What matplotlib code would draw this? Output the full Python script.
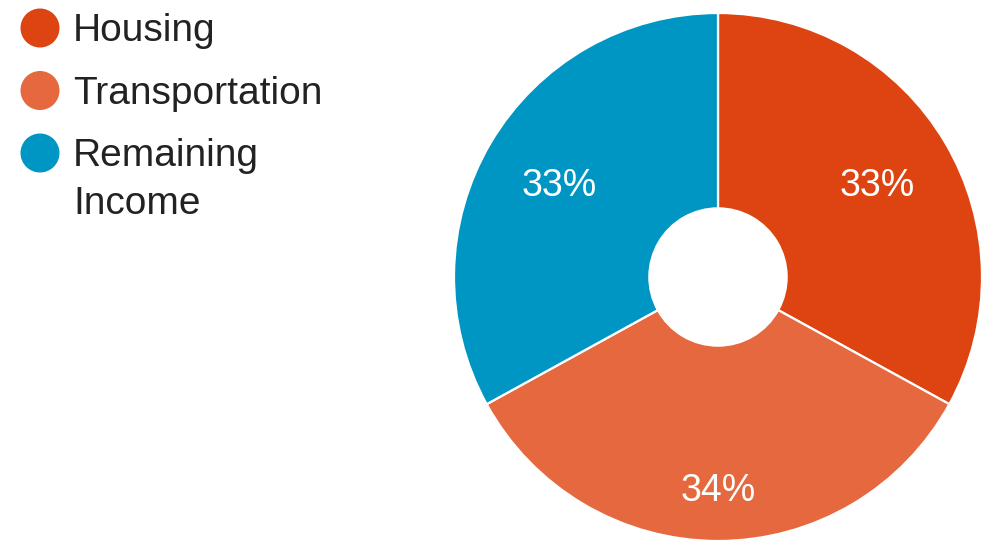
import textwrap
import matplotlib
matplotlib.use("Agg")
import matplotlib.pyplot as plt
from matplotlib.patches import Circle
import numpy as np

# ---- data ----
categories = ["Housing", "Transportation", "Remaining Income"]
values = [33, 34, 33]
colors = ["#DD4411", "#E5683F", "#0096C4"]

# ---- style / layout constants ----
label_r = [0.70, 0.80, 0.70]   # label distances (fraction of radius)
W, H = 992, 544
FONT = "Liberation Sans"
FS = 28

fig = plt.figure(figsize=(W / 100, H / 100), dpi=100)
fig.patch.set_facecolor("white")

# pie axes: centre (718, 277) px from top-left, radius 264 px
cx, cy, R = 718, 277, 264
ax = fig.add_axes([(cx - R) / W, (H - cy - R) / H, 2 * R / W, 2 * R / H])
wedges, _ = ax.pie(values, colors=colors, startangle=90, counterclock=False,
                   radius=1.0,
                   wedgeprops=dict(width=0.74, edgecolor="white", linewidth=1.6))
ax.set_xlim(-1, 1)
ax.set_ylim(-1, 1)
ax.set_aspect("equal")
ax.axis("off")

total = sum(values)
for w, v, r in zip(wedges, values, label_r):
    ang = np.deg2rad((w.theta1 + w.theta2) / 2)
    ax.text(r * np.cos(ang), r * np.sin(ang) - 0.012, f"{round(100 * v / total)}%",
            ha="center", va="center", color="white", fontsize=FS - 1,
            family=FONT)

# legend overlay in pixel coordinates
lax = fig.add_axes([0, 0, 1, 1])
lax.set_xlim(0, W)
lax.set_ylim(H, 0)
lax.axis("off")
lax.patch.set_alpha(0)

y = 28
for cat, col in zip(categories, colors):
    lax.add_patch(Circle((40, y), 19.5, color=col, lw=0))
    lines = textwrap.wrap(cat, 14)
    ly = y
    for ln in lines:
        lax.text(73, ly + 3, ln, ha="left", va="center", fontsize=FS,
                 family=FONT, color="#222222")
        ly += 48
    y = ly - 48 + 62.5

fig.savefig("out.png", dpi=100, facecolor="white")
